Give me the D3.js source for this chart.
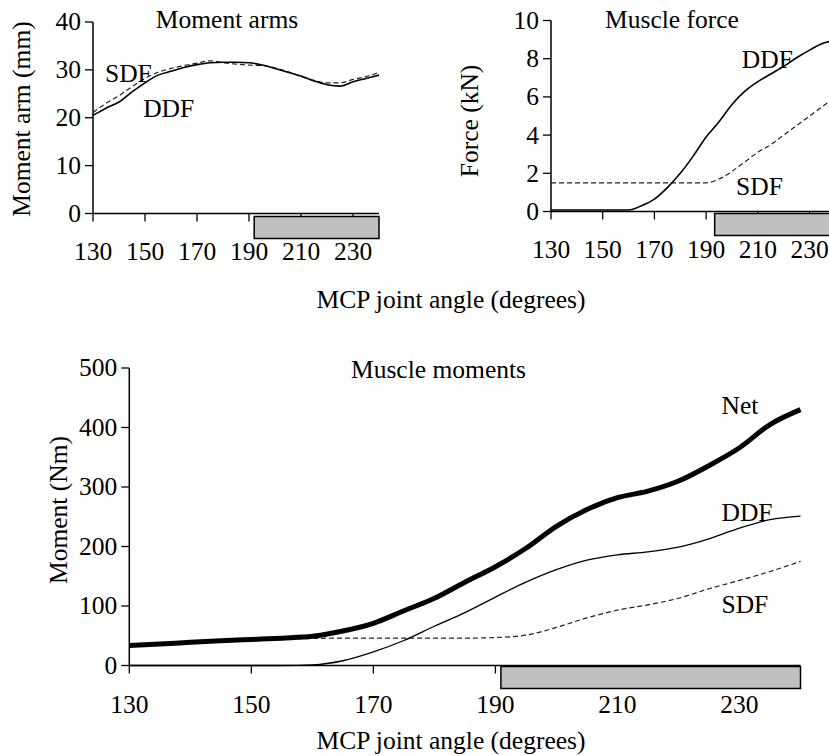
<!DOCTYPE html>
<html>
<head>
<meta charset="utf-8">
<script src="https://cdn.jsdelivr.net/npm/d3@7"></script>
<style>
  body { margin: 0; background: #fff; }
</style>
</head>
<body>
<div id="chart"></div>
<script>
// angles (degrees) sampled every 5
const angles = [130,135,140,145,150,155,160,165,170,175,180,185,190,195,200,205,210,215,220,225,230,235,240];

// moment arms (mm)
const armDDF = [20.5,22.0,23.3,25.4,27.3,28.9,29.7,30.5,31.1,31.5,31.6,31.6,31.5,31.0,30.3,29.5,28.7,27.7,26.9,26.6,27.5,28.2,28.9];
const armSDF = [21.1,23.0,24.6,26.5,28.2,29.5,30.3,30.9,31.4,31.9,31.5,31.2,31.0,30.9,30.4,29.6,28.6,27.8,27.3,27.3,28.0,28.6,29.5];

// muscle force (kN)
const forceDDF = [0.08,0.08,0.08,0.08,0.08,0.08,0.08,0.3,0.65,1.25,2.0,2.9,3.9,4.7,5.6,6.3,6.8,7.2,7.6,8.05,8.45,8.8,8.95];
const forceSDF = [1.5,1.5,1.5,1.5,1.5,1.5,1.5,1.5,1.5,1.5,1.5,1.5,1.5,1.7,2.1,2.6,3.1,3.5,4.0,4.5,5.0,5.5,6.0];

// muscle moments (Nm)
const momNet = [33.6,36,39,41.5,43.7,46,49,58,71,92,113,140,166,197,234,262,282,293,310,336,366,405,430];
const momDDF = [0,0,0,0,0,0,1,8,23,42,66,89,115,140,161,177,186,191,199,213,231,245,251];
const momSDF = [32,35,38,40,42,44,45.5,46,46,46,46,46,47,51,64,80,93,102,113,129,143,158,175];

const xTicks = [130,150,170,190,210,230];

const width = 829, height = 756;
const svg = d3.select("#chart").append("svg")
    .attr("width", width)
    .attr("height", height)
    .attr("font-family", "'Liberation Serif', 'DejaVu Serif', serif");

const fs = 25.5;

function panel(o) {
  const x = d3.scaleLinear().domain([130, 240]).range(o.xr);
  const y = d3.scaleLinear().domain(o.yd).range(o.yr);
  const g = svg.append("g");

  // y axis
  g.append("line").attr("x1", x(130)).attr("x2", x(130))
    .attr("y1", y(o.yd[0])).attr("y2", y(o.yd[1]))
    .attr("stroke", "#000").attr("stroke-width", 1.5);
  g.selectAll(".yt").data(o.yTicks).join("line")
    .attr("x1", x(130) - 8).attr("x2", x(130))
    .attr("y1", d => y(d)).attr("y2", d => y(d))
    .attr("stroke", "#000").attr("stroke-width", 1.3);
  g.selectAll(".yl").data(o.yTicks).join("text")
    .attr("x", x(130) - 12).attr("y", d => y(d))
    .attr("dy", "0.33em").attr("text-anchor", "end")
    .attr("font-size", fs).text(d => d);

  // x axis
  g.append("line").attr("x1", x(130)).attr("x2", x(240))
    .attr("y1", y(0)).attr("y2", y(0))
    .attr("stroke", "#000").attr("stroke-width", 1.5);
  g.selectAll(".xt").data(xTicks).join("line")
    .attr("x1", d => x(d)).attr("x2", d => x(d))
    .attr("y1", y(0)).attr("y2", y(0) + 8)
    .attr("stroke", "#000").attr("stroke-width", 1.3);
  g.selectAll(".xl").data(xTicks).join("text")
    .attr("x", d => x(d)).attr("y", y(0) + o.tickGap)
    .attr("text-anchor", "middle").attr("font-size", fs).text(d => d);

  // grey bar
  g.append("rect")
    .attr("x", x(o.bar[0])).attr("y", y(0) + o.barOff)
    .attr("width", x(o.bar[1]) - x(o.bar[0])).attr("height", 22)
    .attr("fill", "#c0c0c0").attr("stroke", "#000").attr("stroke-width", 1.5);

  // series
  o.series.forEach(s => {
    const line = d3.line()
      .x((d, i) => x(angles[i]))
      .y(d => y(d))
      .curve(d3.curveMonotoneX);
    g.append("path").datum(s.values)
      .attr("d", line)
      .attr("fill", "none")
      .attr("stroke", s.color || "#000")
      .attr("stroke-width", s.w)
      .attr("stroke-dasharray", s.dash || null)
      .attr("stroke-linejoin", "round");
  });

  // labels
  o.labels.forEach(l => {
    g.append("text").attr("x", x(l.a)).attr("y", y(l.v))
      .attr("font-size", fs).text(l.t);
  });

  // title
  g.append("text").attr("x", o.title[1]).attr("y", o.title[2])
    .attr("text-anchor", "middle").attr("font-size", fs).text(o.title[0]);

  // y label
  g.append("text")
    .attr("transform", `translate(${o.ylab[1]},${o.ylab[2]}) rotate(-90)`)
    .attr("text-anchor", "middle").attr("font-size", fs).text(o.ylab[0]);
}

panel({
  xr: [93, 379], yd: [0, 40], yr: [213.5, 22], yTicks: [0,10,20,30,40],
  tickGap: 46, bar: [192, 240], barOff: 3,
  series: [
    {values: armSDF, w: 1.2, dash: "5,3", color: "#222"},
    {values: armDDF, w: 1.6}
  ],
  labels: [{t: "SDF", a: 134.6, v: 27.5}, {t: "DDF", a: 149.3, v: 20.1}],
  title: ["Moment arms", 227, 28],
  ylab: ["Moment arm (mm)", 30, 119]
});

panel({
  xr: [551, 835.4], yd: [0, 10], yr: [211.5, 20.5], yTicks: [0,2,4,6,8,10],
  tickGap: 46, bar: [193.3, 240], barOff: 2,
  series: [
    {values: forceSDF, w: 1.2, dash: "5,3", color: "#222"},
    {values: forceDDF, w: 1.6}
  ],
  labels: [{t: "DDF", a: 203.8, v: 7.5}, {t: "SDF", a: 201.6, v: 0.86}],
  title: ["Muscle force", 672, 28],
  ylab: ["Force (kN)", 478, 121]
});

svg.append("text").attr("x", 451).attr("y", 308)
  .attr("text-anchor", "middle").attr("font-size", fs)
  .text("MCP joint angle (degrees)");

panel({
  xr: [129.3, 800.5], yd: [0, 500], yr: [665.5, 368], yTicks: [0,100,200,300,400,500],
  tickGap: 47, bar: [190.9, 240], barOff: 1,
  series: [
    {values: momSDF, w: 1.2, dash: "5,3", color: "#222"},
    {values: momDDF, w: 1.3},
    {values: momNet, w: 5}
  ],
  labels: [{t: "Net", a: 227.05, v: 422.7}, {t: "DDF", a: 227.05, v: 242.9}, {t: "SDF", a: 227.05, v: 88.7}],
  title: ["Muscle moments", 438.5, 378],
  ylab: ["Moment (Nm)", 67, 510]
});

svg.append("text").attr("x", 451).attr("y", 749)
  .attr("text-anchor", "middle").attr("font-size", fs)
  .text("MCP joint angle (degrees)");
</script>
</body>
</html>
